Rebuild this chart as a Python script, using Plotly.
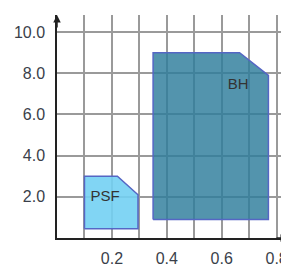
import plotly.graph_objects as go

# Data
psf_x = [0.1, 0.1, 0.22, 0.295, 0.295, 0.1]
psf_y = [0.45, 3.0, 3.0, 2.1, 0.45, 0.45]
bh_x = [0.35, 0.35, 0.665, 0.77, 0.77, 0.35]
bh_y = [0.9, 9.0, 9.0, 7.9, 0.9, 0.9]
labels = ["PSF", "BH"]
label_x = [0.175, 0.66]
label_y = [2.0, 7.4]
x_ticks = [0.2, 0.4, 0.6, 0.8]
x_tick_text = ["0.2", "0.4", "0.6", "0.8"]
y_ticks = [2, 4, 6, 8, 10]
y_tick_text = ["2.0", "4.0", "6.0", "8.0", "10.0"]

fig = go.Figure()
fig.add_trace(go.Scatter(x=psf_x, y=psf_y, mode="lines", fill="toself",
                         fillcolor="rgba(115,208,243,0.9)",
                         line=dict(color="#5566c4", width=1.5), hoverinfo="skip"))
fig.add_trace(go.Scatter(x=bh_x, y=bh_y, mode="lines", fill="toself",
                         fillcolor="rgba(45,125,155,0.82)",
                         line=dict(color="#5566c4", width=1.5), hoverinfo="skip"))
fig.add_trace(go.Scatter(x=label_x, y=label_y, mode="text", text=labels,
                         textfont=dict(family="Liberation Sans, Arial", size=15, color="#333333"),
                         hoverinfo="skip"))

font = dict(family="Liberation Sans, Arial", size=16, color="#3a3f4a")
# page body has an 8px margin, so the figure is sized to fit the 289x276 window
fig.update_layout(
    width=281, height=268,
    margin=dict(l=49, r=0, t=7, b=38),
    paper_bgcolor="white", plot_bgcolor="white",
    showlegend=False,
    xaxis=dict(range=[0, 0.845], tickvals=x_ticks, ticktext=x_tick_text,
               showgrid=True, gridcolor="#9a9a9a", gridwidth=1.5,
               minor=dict(dtick=0.1, tick0=0, showgrid=True, gridcolor="#9a9a9a", gridwidth=1.5),
               showline=True, linecolor="#222222", linewidth=1.5,
               zeroline=False, ticks="", ticklabelstandoff=5, tickfont=font,
               automargin=False, fixedrange=True),
    yaxis=dict(range=[0, 10.83], tickvals=y_ticks, ticktext=y_tick_text,
               showgrid=True, gridcolor="#9a9a9a", gridwidth=1.5,
               showline=True, linecolor="#222222", linewidth=1.5,
               zeroline=False, ticks="", ticklabelstandoff=7, tickfont=font,
               automargin=False, fixedrange=True),
)
# axis arrows
fig.add_annotation(x=0, y=1.0, xref="x", yref="paper", ax=0, ay=14, axref="pixel", ayref="pixel",
                   showarrow=True, arrowhead=2, arrowsize=1, arrowwidth=1.5, arrowcolor="#222222", text="")
fig.add_annotation(x=1.0, y=0, xref="paper", yref="y", ax=-14, ay=0, axref="pixel", ayref="pixel",
                   showarrow=True, arrowhead=2, arrowsize=1, arrowwidth=1.5, arrowcolor="#222222", text="")

fig.write_html("out.html")
